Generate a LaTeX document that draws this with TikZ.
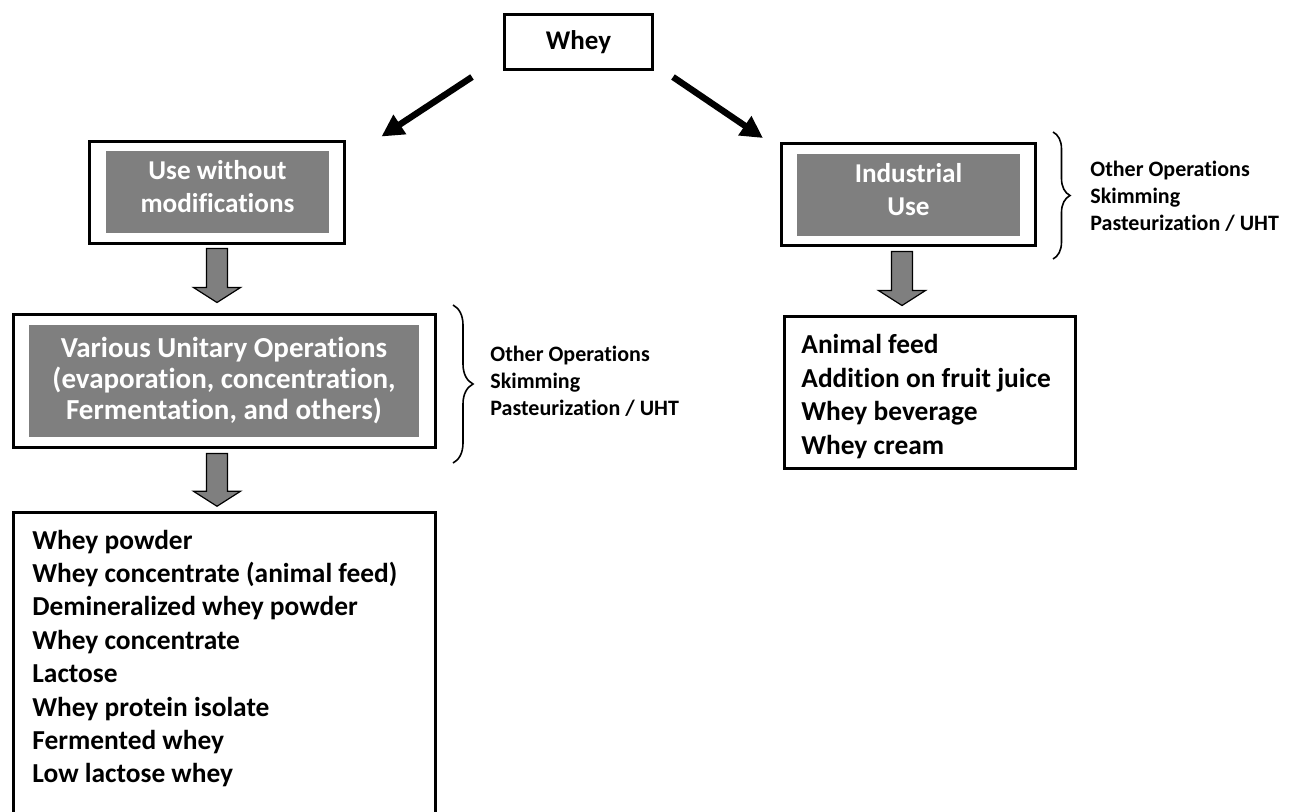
\documentclass[tikz,border=0pt]{standalone}
\usepackage{fontspec}
\setmainfont{Carlito}[Ligatures=NoCommon]
\usetikzlibrary{arrows.meta,calc,decorations.pathreplacing}
\definecolor{boxgray}{HTML}{7F7F7F}
\tikzset{
  framebox/.style={draw, line width=1.5pt, inner sep=0pt},
  graybox/.style={fill=boxgray, text=white, align=center, inner sep=0pt,
    font=\fontsize{13.6}{16.5}\selectfont\bfseries},
  listtext/.style={align=left, inner sep=0pt, anchor=base west,
    font=\fontsize{13.7}{16.7}\selectfont\bfseries},
  sidetext/.style={align=left, inner sep=0pt, anchor=west,
    font=\fontsize{11}{13.5}\selectfont\bfseries},
  thickarrow/.style={-{Triangle[length=11pt,width=11pt]}, line width=3.2pt},
  blockfill/.style={draw=black, fill=boxgray, line width=0.6pt},
  bracket/.style={decorate, decoration={brace, amplitude=#1}, line width=0.8pt}
}
\newcommand{\fatarrow}[2]{\draw[blockfill] let \p1=(#1), \p2=(#2) in
  (\x1-5.25pt,\y1) -- (\x1+5.25pt,\y1) -- (\x1+5.25pt,\y2+7.5pt) -- (\x1+11.75pt,\y2+7.5pt)
  -- (\x1,\y2) -- (\x1-11.75pt,\y2+7.5pt) -- (\x1-5.25pt,\y2+7.5pt) -- cycle;}
\begin{document}
\begin{tikzpicture}[x=0.5pt,y=-0.5pt]
\useasboundingbox (0,0) rectangle (1297,811);
\node[framebox, minimum width=74pt, minimum height=27.5pt,
  font=\fontsize{13.5}{16}\selectfont\bfseries] (whey) at (578.5,42) {Whey};

\node[framebox, minimum width=127.5pt, minimum height=51pt] (use) at (217,192.5) {};
\node[graybox, minimum width=111.5pt, minimum height=41pt, text depth=5.5pt] (usein) at (217.5,192) {Use without\\modifications};

\node[framebox, minimum width=127pt, minimum height=51pt] (ind) at (908.5,194.5) {};
\node[graybox, minimum width=111.5pt, minimum height=41pt, text depth=5.5pt] (indin) at (908.5,195) {Industrial\\Use};

\node[framebox, minimum width=211pt, minimum height=66.5pt] (various) at (224.5,381) {};
\node[graybox, minimum width=195pt, minimum height=56pt,
  font=\fontsize{14.5}{15.5}\selectfont\bfseries] (variousin) at (224,381)
  {Various Unitary Operations\\(evaporation, concentration,\\Fermentation, and others)};

\node[framebox, minimum width=145.5pt, minimum height=76pt] (listr) at (930,392.5) {};
\node[listtext] (listrtext) at (801,454) {Animal feed\\Addition on fruit juice\\Whey beverage\\Whey cream};

\node[framebox, minimum width=211pt, minimum height=158.75pt] (listl) at (224.5,671) {};
\node[listtext] (listltext) at (32,782.8) {Whey powder\\Whey concentrate (animal feed)\\Demineralized whey powder\\Whey concentrate\\Lactose\\Whey protein isolate\\Fermented whey\\Low lactose whey};

\node[sidetext] (sidel) at (490,381) {Other Operations\\Skimming\\Pasteurization / UHT};
\node[sidetext] (sider) at (1090,196) {Other Operations\\Skimming\\Pasteurization / UHT};

\coordinate (bl1) at (453,305);
\coordinate (bl2) at (453,463);
\coordinate (br1) at (1053,132);
\coordinate (br2) at (1053,259);
\draw[bracket=10pt] (bl1) -- (bl2);
\draw[bracket=8.5pt] (br1) -- (br2);

\draw[thickarrow] ([shift={(-15.5pt,-3pt)}]whey.south west) -- ([shift={(17.75pt,1.75pt)}]use.north east);
\draw[thickarrow] ([shift={(9.5pt,-3pt)}]whey.south east) -- ([shift={(-8.5pt,2pt)}]ind.north west);

\coordinate (a1s) at ([yshift=-1.75pt]use.south);
\coordinate (a1e) at ([yshift=5.25pt]use.south |- various.north);
\coordinate (a2s) at ([yshift=-2.25pt]use.south |- various.south);
\coordinate (a2e) at ([yshift=2.25pt]use.south |- listl.north);
\coordinate (a3s) at ([shift={(-3.25pt,-2.25pt)}]ind.south);
\coordinate (a3e) at ([shift={(-3.25pt,4.75pt)}]ind.south |- listr.north);
\fatarrow{a1s}{a1e}
\fatarrow{a2s}{a2e}
\fatarrow{a3s}{a3e}
\end{tikzpicture}
\end{document}
